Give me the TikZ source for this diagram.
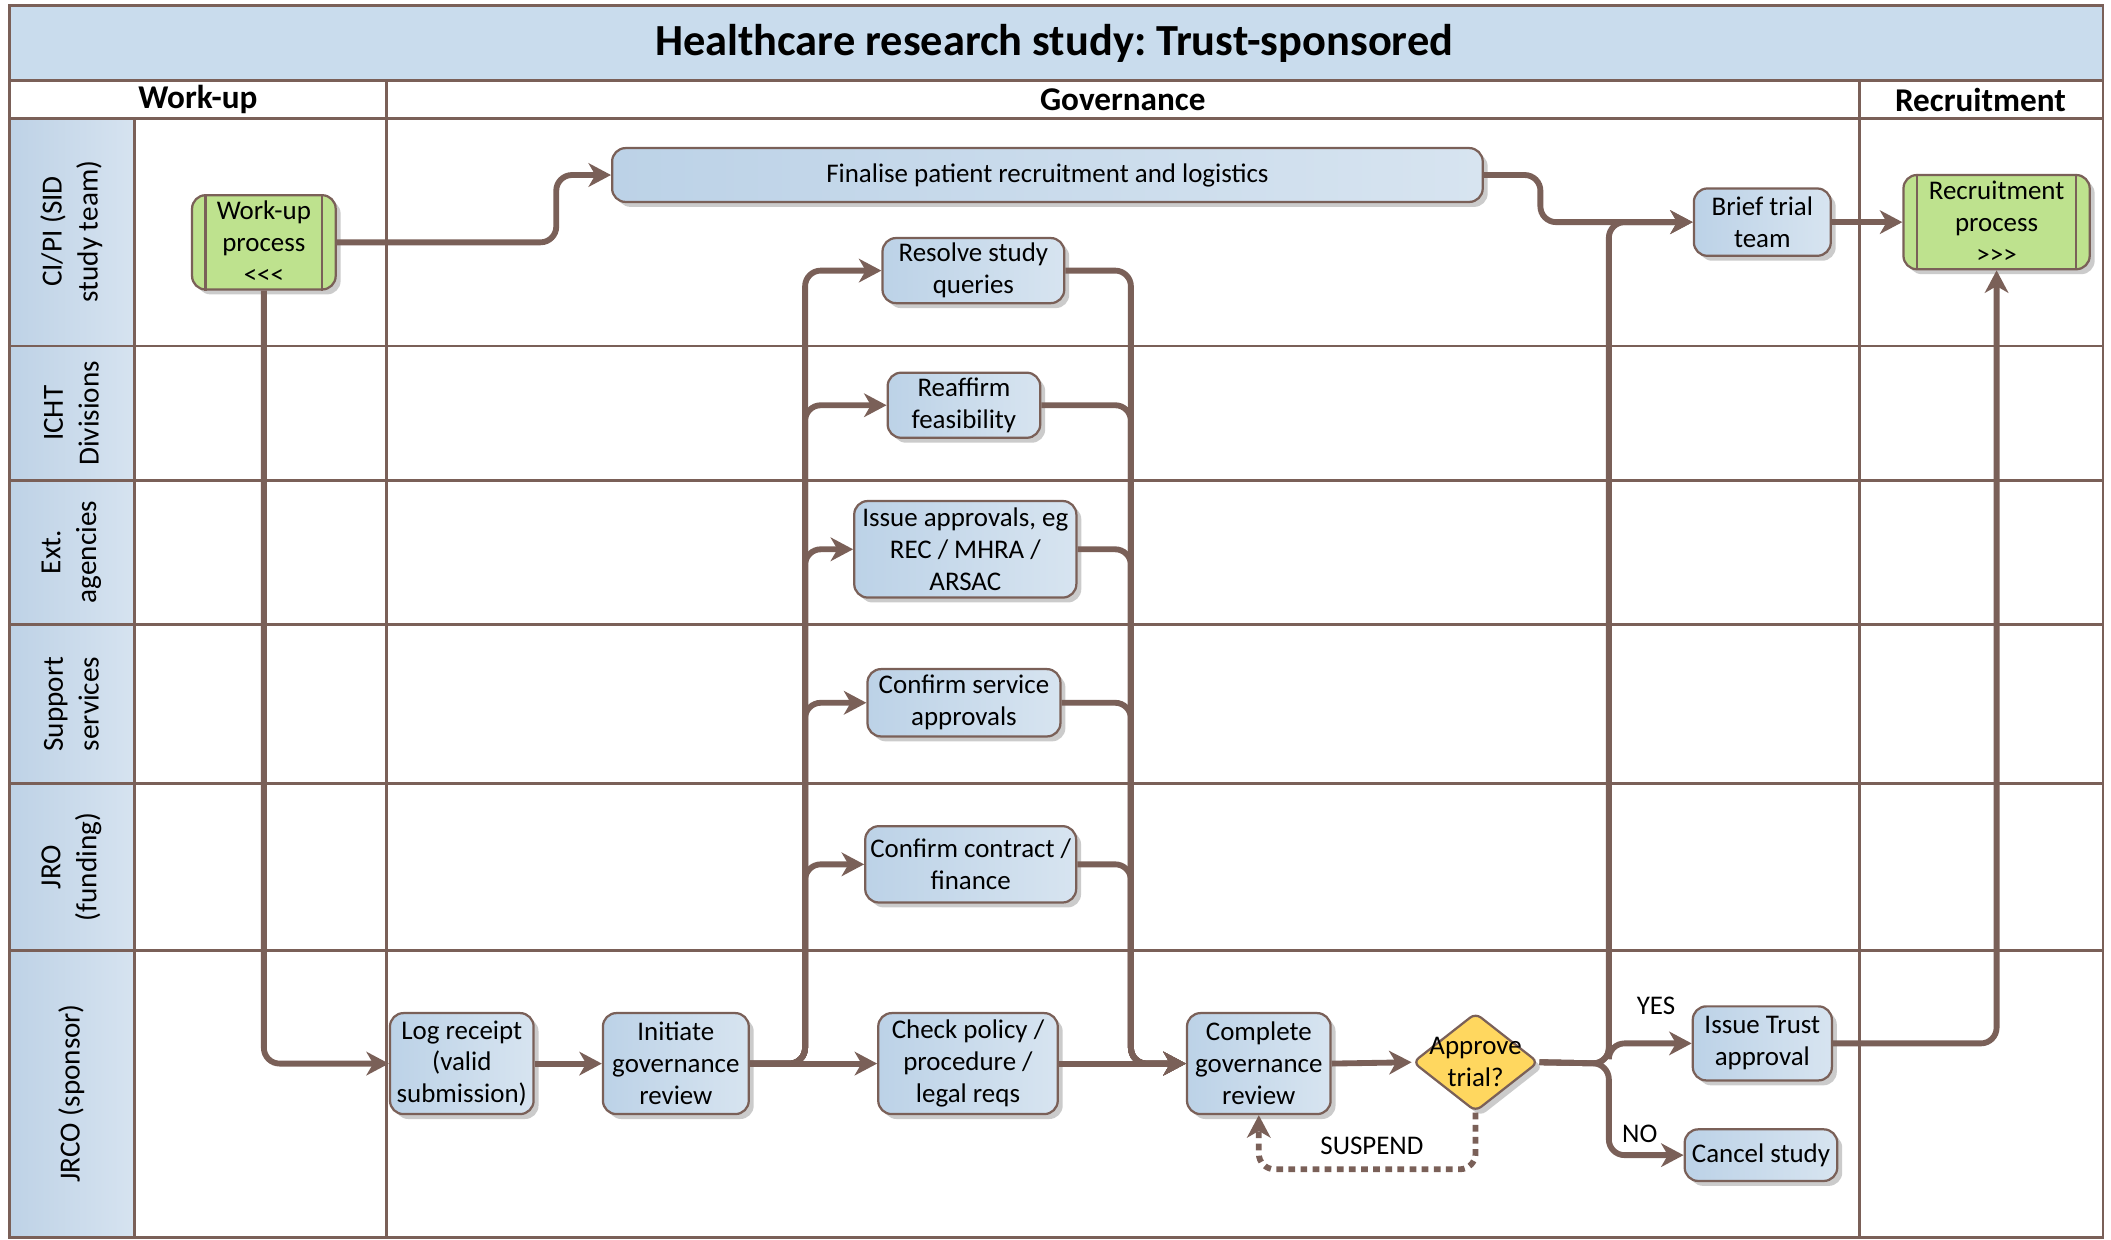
\documentclass[tikz,border=0pt]{standalone}
\usepackage{fontspec}
\setmainfont{Carlito}
\usetikzlibrary{arrows.meta,shapes.geometric,shadows}
\definecolor{brn}{RGB}{122,96,88}
\definecolor{bluA}{RGB}{188,210,231}
\definecolor{bluB}{RGB}{215,228,240}
\definecolor{grnA}{RGB}{190,226,142}
\definecolor{yel}{RGB}{255,215,95}
\definecolor{titl}{RGB}{201,220,237}
\definecolor{laneA}{RGB}{190,210,230}
\definecolor{laneB}{RGB}{214,227,240}
\frenchspacing
\begin{document}
\begin{tikzpicture}[x=0.6pt,y=-0.6pt,
  gridln/.style={draw=brn,line width=1.2pt},
  shad/.style={drop shadow={shadow xshift=2.2pt,shadow yshift=-2.2pt,fill=black!40,opacity=0.5}},
  task/.style={draw=brn,line width=1pt,rounded corners=6pt,left color=bluA,right color=bluB,shad,align=center,inner sep=1pt,font=\fontsize{12}{14.2}\selectfont},
  proc/.style={draw=brn,line width=1pt,rounded corners=6pt,fill=grnA,shad,align=center,inner sep=1pt,font=\fontsize{12}{14.2}\selectfont},
  decision/.style={diamond,draw=brn,line width=1pt,rounded corners=3pt,fill=yel,shad,inner sep=0pt},
  conn/.style={draw=brn,line width=2.6pt,rounded corners=7pt,-{Stealth[length=10pt,width=10.5pt,inset=3pt]}},
  susp/.style={conn,dash pattern=on 3pt off 2.4pt},
  lanelab/.style={rotate=90,align=center,font=\fontsize{13}{16}\selectfont},
  colhead/.style={font=\fontsize{14.8}{17}\selectfont\bfseries},
  lbl/.style={font=\fontsize{12}{14}\selectfont},
  bar/.style={draw=brn,line width=1pt}
]
\useasboundingbox (0,0) rectangle (1568,921);
% backgrounds
\fill[white] (7,4) rectangle (1562,919);
\fill[titl] (7,4) rectangle (1562,60);
\shade[left color=laneA,right color=laneB] (7,88) rectangle (100,919);
% grid
\draw[gridln] (7,60) -- (1562,60);
\draw[gridln] (7,88) -- (1562,88);
\foreach \yy in {257,357,464,582,706} \draw[gridln] (7,\yy) -- (1562,\yy);
\draw[gridln] (100,88) -- (100,919);
\draw[gridln] (287,60) -- (287,919);
\draw[gridln] (1381,60) -- (1381,919);
\draw[gridln] (7,4) rectangle (1562,919);
% title and headers
\node[font=\fontsize{19.8}{22}\selectfont\bfseries] (title) at (783,32) {Healthcare research study: Trust-sponsored};
\node[colhead] (hwork) at (147,74) {Work-up};
\node[colhead] (hgov) at (834,74) {Governance};
\node[colhead] (hrec) at (1471,74) {Recruitment};
% lane labels
\node[lanelab] (l1) at (53,172) {CI/PI (SID\\study team)};
\node[lanelab] (l2) at (53,307) {ICHT\\Divisions};
\node[lanelab] (l3) at (53,410) {Ext.\\agencies};
\node[lanelab] (l4) at (53,523) {Support\\services};
\node[lanelab] (l5) at (53,644) {JRO\\(funding)};
\node[lanelab] (l6) at (53,812) {JRCO (sponsor)};
% nodes
\node[proc,minimum width=64pt,minimum height=42pt] (workup) at (196,180) {Work-up\\process\\<\kern0pt<\kern0pt<};
\draw[bar] ([xshift=6.5pt]workup.north west) -- ([xshift=6.5pt]workup.south west);
\draw[bar] ([xshift=-6.5pt]workup.north east) -- ([xshift=-6.5pt]workup.south east);
\node[proc,minimum width=83pt,minimum height=42pt] (recruit) at (1483,165) {Recruitment\\process\\>\kern0pt>\kern0pt>};
\draw[bar] ([xshift=6.5pt]recruit.north west) -- ([xshift=6.5pt]recruit.south west);
\draw[bar] ([xshift=-6.5pt]recruit.north east) -- ([xshift=-6.5pt]recruit.south east);
\node[task,minimum width=388pt,minimum height=24pt] (final) at (778,130) {Finalise patient recruitment and logistics};
\node[task,minimum width=61pt,minimum height=30pt] (brief) at (1309,165) {Brief trial\\team};
\node[task,minimum width=81pt,minimum height=29pt] (resolve) at (723,201) {Resolve study\\queries};
\node[task,minimum width=68pt,minimum height=29pt] (reaffirm) at (716,301) {Reaffirm\\feasibility};
\node[task,minimum width=99pt,minimum height=43pt] (issueapp) at (717,408) {Issue approvals, eg\\REC / MHRA /\\ARSAC};
\node[task,minimum width=86pt,minimum height=30pt] (confserv) at (716,522) {Confirm service\\approvals};
\node[task,minimum width=94pt,minimum height=34pt] (confcon) at (721,642) {Confirm contract /\\finance};
\node[task,minimum width=64pt,minimum height=45pt] (logr) at (343,790) {Log receipt\\(valid\\submission)};
\node[task,minimum width=65pt,minimum height=45pt] (init) at (502,790) {Initiate\\governance\\review};
\node[task,minimum width=80pt,minimum height=45pt] (check) at (719,790) {Check policy /\\procedure /\\legal reqs};
\node[task,minimum width=64pt,minimum height=45pt] (complete) at (935,790) {Complete\\governance\\review};
\node[decision,minimum width=56pt,minimum height=44pt] (approve) at (1096,789) {};
\node[font=\fontsize{12}{14.2}\selectfont,align=center] (approvetxt) at (1096,789) {Approve\\trial?};
\node[task,minimum width=62pt,minimum height=33pt] (issue) at (1309,775) {Issue Trust\\approval};
\node[task,minimum width=68pt,minimum height=23pt] (cancel) at (1308,858) {Cancel study};
% junction points
\coordinate (jL) at (598,790);
\coordinate (jR) at (840,790);
\coordinate (jA) at (1195,790);
% connectors
\draw[conn] (workup.east) -- ++(163,0) |- (final.west);
\draw[conn] (workup.south) |- (logr.west);
\draw[conn] (final.east) -- ++(42,0) |- (brief.west);
\draw[conn] (brief.east) -- (recruit.west);
\draw[conn] (logr.east) -- (init.west);
\draw[conn] (init.east) -- (check.west);
\draw[conn] (init.east) -- (jL) |- (resolve.west);
\draw[conn] (init.east) -- (jL) |- (reaffirm.west);
\draw[conn] (init.east) -- (jL) |- (issueapp.west);
\draw[conn] (init.east) -- (jL) |- (confserv.west);
\draw[conn] (init.east) -- (jL) |- (confcon.west);
\draw[conn] (resolve.east) -| (jR) -- (complete.west);
\draw[conn] (reaffirm.east) -| (jR) -- (complete.west);
\draw[conn] (issueapp.east) -| (jR) -- (complete.west);
\draw[conn] (confserv.east) -| (jR) -- (complete.west);
\draw[conn] (confcon.east) -| (jR) -- (complete.west);
\draw[conn] (check.east) -- (complete.west);
\draw[conn] (complete.east) -- (approve.west);
\draw[conn] (approve.east) -- (jA) |- (issue.west);
\draw[conn] (approve.east) -- (jA) |- (cancel.west);
\draw[conn] (approve.east) -- (jA) |- (brief.west);
\draw[conn] (issue.east) -| (recruit.south);
\draw[susp] (approve.south) -- ++(0,42) -| (complete.south);
% labels
\node[lbl] (yes) at (1230,747) {YES};
\node[lbl] (no) at (1218,842) {NO};
\node[lbl] (suspend) at (1019,851) {SUSPEND};
\end{tikzpicture}
\end{document}
